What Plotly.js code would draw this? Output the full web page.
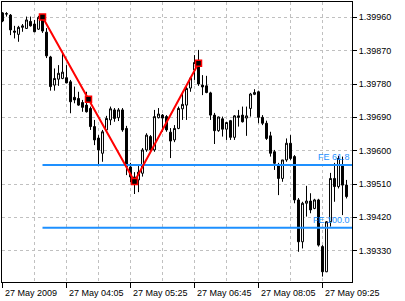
<!DOCTYPE html>
<html>
<head>
<meta charset="utf-8">
<script src="https://cdn.plot.ly/plotly-3.0.1.min.js"></script>
<style>
html,body{margin:0;padding:0;background:#fff;}
#chart{width:405px;height:301px;}
</style>
</head>
<body>
<div id="chart"></div>
<script>
// 5-minute bars, 27 May 2009
const opens  = [1.39972,1.39970,1.39966,1.39923,1.39914,1.39933,1.39930,1.39949,1.39942,1.39928,
                1.39956,1.39920,1.39853,1.39777,1.39793,1.39795,1.39797,1.39786,1.39744,1.39741,
                1.39730,1.39723,1.39714,1.39665,1.39634,1.39593,1.39656,1.39683,1.39710,1.39689,
                1.39710,1.39660,1.39556,1.39529,1.39521,1.39539,1.39602,1.39638,1.39602,1.39689,
                1.39696,1.39692,1.39650,1.39629,1.39660,1.39713,1.39723,1.39769,1.39818,1.39839,
                1.39777,1.39775,1.39756,1.39696,1.39654,1.39686,1.39658,1.39681,1.39636,1.39694,
                1.39696,1.39688,1.39714,1.39752,1.39759,1.39690,1.39674,1.39640,1.39597,1.39561,
                1.39525,1.39575,1.39620,1.39584,1.39467,1.39354,1.39458,1.39464,1.39444,1.39467,
                1.39341,1.39273,1.39408,1.39525,1.39503,1.39561,1.39507];
const highs  = [1.39974,1.39974,1.39969,1.39937,1.39937,1.39942,1.39962,1.39962,1.39953,1.39964,
                1.39961,1.39931,1.39856,1.39822,1.39831,1.39867,1.39831,1.39791,1.39773,1.39759,
                1.39737,1.39759,1.39719,1.39683,1.39642,1.39656,1.39694,1.39719,1.39715,1.39715,
                1.39715,1.39667,1.39567,1.39542,1.39559,1.39607,1.39647,1.39642,1.39710,1.39715,
                1.39699,1.39696,1.39661,1.39669,1.39719,1.39759,1.39775,1.39798,1.39858,1.39872,
                1.39804,1.39802,1.39759,1.39702,1.39692,1.39692,1.39678,1.39683,1.39696,1.39710,
                1.39719,1.39719,1.39756,1.39766,1.39762,1.39696,1.39681,1.39651,1.39602,1.39567,
                1.39575,1.39633,1.39642,1.39588,1.39472,1.39462,1.39505,1.39485,1.39470,1.39470,
                1.39345,1.39410,1.39540,1.39567,1.39586,1.39584,1.39521];
const lows   = [1.39947,1.39962,1.39912,1.39903,1.39894,1.39921,1.39929,1.39935,1.39920,1.39926,
                1.39918,1.39850,1.39762,1.39762,1.39775,1.39793,1.39782,1.39701,1.39728,1.39721,
                1.39705,1.39703,1.39656,1.39615,1.39561,1.39570,1.39650,1.39669,1.39678,1.39680,
                1.39651,1.39534,1.39515,1.39483,1.39488,1.39530,1.39597,1.39597,1.39597,1.39687,
                1.39651,1.39651,1.39580,1.39623,1.39658,1.39683,1.39683,1.39759,1.39791,1.39775,
                1.39750,1.39755,1.39683,1.39618,1.39651,1.39638,1.39629,1.39629,1.39629,1.39665,
                1.39676,1.39640,1.39692,1.39750,1.39674,1.39669,1.39629,1.39584,1.39548,1.39480,
                1.39516,1.39570,1.39575,1.39458,1.39327,1.39336,1.39422,1.39431,1.39442,1.39341,
                1.39260,1.39272,1.39395,1.39462,1.39498,1.39426,1.39471];
const closes = [1.39950,1.39969,1.39926,1.39920,1.39933,1.39937,1.39953,1.39937,1.39921,1.39960,
                1.39923,1.39856,1.39773,1.39795,1.39809,1.39812,1.39783,1.39732,1.39737,1.39723,
                1.39717,1.39705,1.39665,1.39629,1.39602,1.39651,1.39687,1.39713,1.39687,1.39710,
                1.39656,1.39557,1.39529,1.39513,1.39542,1.39602,1.39642,1.39602,1.39692,1.39699,
                1.39688,1.39656,1.39626,1.39660,1.39714,1.39725,1.39768,1.39796,1.39838,1.39780,
                1.39772,1.39757,1.39696,1.39654,1.39691,1.39658,1.39676,1.39636,1.39694,1.39690,
                1.39678,1.39694,1.39753,1.39757,1.39690,1.39674,1.39633,1.39593,1.39566,1.39525,
                1.39575,1.39620,1.39579,1.39467,1.39354,1.39458,1.39464,1.39440,1.39467,1.39345,
                1.39273,1.39408,1.39525,1.39503,1.39579,1.39507,1.39476];

// Fibonacci expansion anchor points (bar index, price)
const feBars   = [10, 33, 49];
const fePrices = [1.39961, 1.39517, 1.39836];
const feLevels = [61.8, 100.0];

const timeLabels = ["27 May 2009","27 May 04:05","27 May 05:25","27 May 06:45","27 May 08:05","27 May 09:25"];
const priceTicks = [1.39330,1.39420,1.39510,1.39600,1.39690,1.39780,1.39870,1.39960];

const barsPerLabel = 16;
const xIdx = opens.map((_, i) => i);
const xRange = [-0.125, 87.375];
const yRange = [1.392454, 1.400014];

const FONT = "Liberation Sans, Arial, sans-serif";
const BLUE = "#1E90FF";

const traces = [];
traces.push({
  type: "candlestick",
  x: xIdx, open: opens, high: highs, low: lows, close: closes,
  increasing: {line: {color: "#000", width: 1}, fillcolor: "#ffffff"},
  decreasing: {line: {color: "#000", width: 1}, fillcolor: "#000000"},
  whiskerwidth: 0,
  hoverinfo: "skip",
  showlegend: false
});

// FE levels
const ab = fePrices[0] - fePrices[1];
const levelPrices = feLevels.map(p => fePrices[2] - ab * p / 100);
levelPrices.forEach(lp => {
  traces.push({
    type: "scatter", mode: "lines",
    x: [feBars[0], xRange[1]], y: [lp, lp],
    line: {color: BLUE, width: 2},
    hoverinfo: "skip", showlegend: false, cliponaxis: true
  });
});

// zigzag lines
traces.push({
  type: "scatter", mode: "lines",
  x: feBars, y: fePrices,
  line: {color: "#ff0000", width: 2},
  hoverinfo: "skip", showlegend: false
});
// selection markers (anchor points + midpoint of first leg)
const mx = [feBars[0], (feBars[0] + feBars[1]) / 2, feBars[1], feBars[2]];
const my = [fePrices[0], (fePrices[0] + fePrices[1]) / 2, fePrices[1], fePrices[2]];
traces.push({
  type: "scatter", mode: "markers",
  x: mx, y: my,
  marker: {symbol: "square", size: 6, color: "#000", line: {color: "#ff0000", width: 1.5}},
  hoverinfo: "skip", showlegend: false
});

const annotations = [];
timeLabels.forEach((t, i) => {
  annotations.push({
    xref: "x", yref: "paper", x: i * barsPerLabel, y: 0,
    xanchor: "left", yanchor: "top", xshift: 0, yshift: -4,
    text: t, showarrow: false,
    font: {family: FONT, size: 9, color: "#000"}
  });
});
levelPrices.forEach((lp, i) => {
  annotations.push({
    xref: "paper", yref: "y", x: 1, y: lp,
    xanchor: "right", yanchor: "middle", yshift: 8,
    text: "FE " + feLevels[i].toFixed(1), showarrow: false,
    font: {family: FONT, size: 9, color: BLUE}
  });
});

const layout = {
  width: 405, height: 301,
  margin: {l: 2, r: 53, t: 2, b: 19, pad: 0},
  paper_bgcolor: "#ffffff", plot_bgcolor: "#ffffff",
  showlegend: false,
  xaxis: {
    range: xRange, fixedrange: true,
    rangeslider: {visible: false},
    tickmode: "array",
    tickvals: timeLabels.map((_, i) => i * barsPerLabel),
    showticklabels: false,
    ticks: "outside", ticklen: 5, tickcolor: "#000", tickwidth: 1,
    showgrid: true, gridcolor: "#c0c0c0", griddash: "3px,3px", gridwidth: 1,
    minor: {tickmode: "array", tickvals: timeLabels.map((_, i) => i * barsPerLabel + barsPerLabel / 2),
            showgrid: true, gridcolor: "#c0c0c0", griddash: "3px,3px", gridwidth: 1, ticks: ""},
    showline: true, mirror: true, linecolor: "#000", linewidth: 1,
    zeroline: false
  },
  yaxis: {
    range: yRange, fixedrange: true, side: "right",
    tickmode: "array", tickvals: priceTicks,
    ticktext: priceTicks.map(v => v.toFixed(5)),
    ticks: "outside", ticklen: 4, tickcolor: "#000",
    tickfont: {family: FONT, size: 9, color: "#000"},
    showgrid: true, gridcolor: "#c0c0c0", griddash: "3px,3px", gridwidth: 1,
    showline: true, mirror: true, linecolor: "#000", linewidth: 1,
    zeroline: false
  },
  annotations: annotations
};

Plotly.newPlot("chart", traces, layout, {staticPlot: true, displayModeBar: false});
</script>
</body>
</html>
